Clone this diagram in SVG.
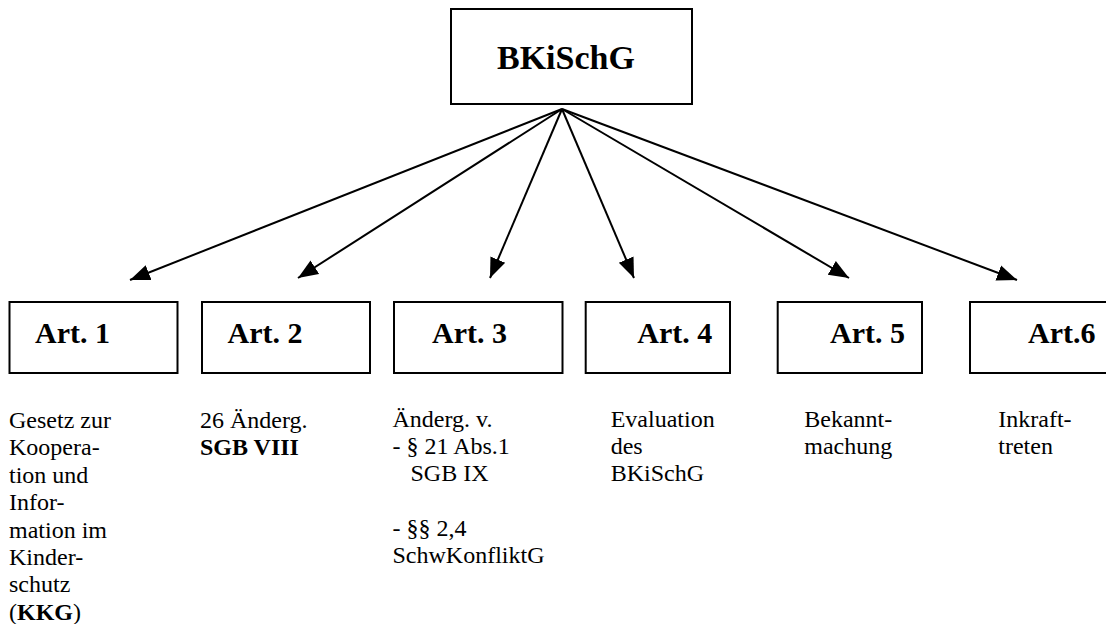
<svg xmlns="http://www.w3.org/2000/svg" width="1106" height="624" viewBox="0 0 1106 624">
<style>
.box{fill:#fff;stroke:#000;stroke-width:2}
.t{font-family:"Liberation Serif","Times New Roman",serif;fill:#000}
.lbl{font-size:30px;font-weight:bold}
.body{font-size:24px}
.b{font-weight:bold}
.con{stroke:#000;stroke-width:2;fill:none;marker-end:url(#ah)}
</style>
<defs>
<marker id="ah" markerUnits="userSpaceOnUse" markerWidth="22" markerHeight="18" refX="20" refY="9" orient="auto">
<path d="M0,1 L20,9 L0,17 Z" fill="#000"/>
</marker>
</defs>
<rect width="1106" height="624" fill="#fff"/>
<g id="connectors">
<line class="con" x1="562" y1="109" x2="130" y2="280"/>
<line class="con" x1="562" y1="109" x2="298" y2="278"/>
<line class="con" x1="562" y1="109" x2="490" y2="278"/>
<line class="con" x1="562" y1="109" x2="634" y2="278"/>
<line class="con" x1="562" y1="109" x2="849" y2="278"/>
<line class="con" x1="562" y1="109" x2="1017" y2="280"/>
</g>
<g id="root">
<rect class="box" x="451" y="9" width="241" height="95"/>
<text class="t" x="497" y="69" font-size="34" font-weight="bold">BKiSchG</text>
</g>
<g id="art1">
<rect class="box" x="9.5" y="302" width="168" height="71"/>
<text class="t lbl" x="35" y="343">Art. 1</text>
<text class="t body" x="9" y="428">Gesetz zur</text>
<text class="t body" x="9" y="455.4">Koopera-</text>
<text class="t body" x="9" y="482.8">tion und</text>
<text class="t body" x="9" y="510.2">Infor-</text>
<text class="t body" x="9" y="537.6">mation im</text>
<text class="t body" x="9" y="565">Kinder-</text>
<text class="t body" x="9" y="592.4">schutz</text>
<text class="t body" x="9" y="619.8">(<tspan class="b">KKG</tspan>)</text>
</g>
<g id="art2">
<rect class="box" x="202" y="302" width="168" height="71"/>
<text class="t lbl" x="227.5" y="343">Art. 2</text>
<text class="t body" x="200" y="428">26 Änderg.</text>
<text class="t body b" x="200" y="455.4">SGB VIII</text>
</g>
<g id="art3">
<rect class="box" x="394" y="302" width="168.5" height="71"/>
<text class="t lbl" x="432" y="343">Art. 3</text>
<text class="t body" x="392.5" y="427">Änderg. v.</text>
<text class="t body" x="392.5" y="454">- § 21 Abs.1</text>
<text class="t body" x="410.5" y="481">SGB IX</text>
<text class="t body" x="392.5" y="535.7">- §§ 2,4</text>
<text class="t body" x="392.5" y="563">SchwKonfliktG</text>
</g>
<g id="art4">
<rect class="box" x="585.7" y="302" width="144.3" height="71"/>
<text class="t lbl" x="637.3" y="343">Art. 4</text>
<text class="t body" x="610.7" y="427">Evaluation</text>
<text class="t body" x="610.7" y="454">des</text>
<text class="t body" x="610.7" y="481">BKiSchG</text>
</g>
<g id="art5">
<rect class="box" x="777.7" y="302" width="144.3" height="71"/>
<text class="t lbl" x="830" y="343">Art. 5</text>
<text class="t body" x="804.3" y="427.3">Bekannt-</text>
<text class="t body" x="804.3" y="453.5">machung</text>
</g>
<g id="art6">
<rect class="box" x="970" y="302" width="150" height="71"/>
<text class="t lbl" x="1028" y="343">Art.6</text>
<text class="t body" x="998.3" y="427.3">Inkraft-</text>
<text class="t body" x="998.3" y="453.5">treten</text>
</g>
</svg>
